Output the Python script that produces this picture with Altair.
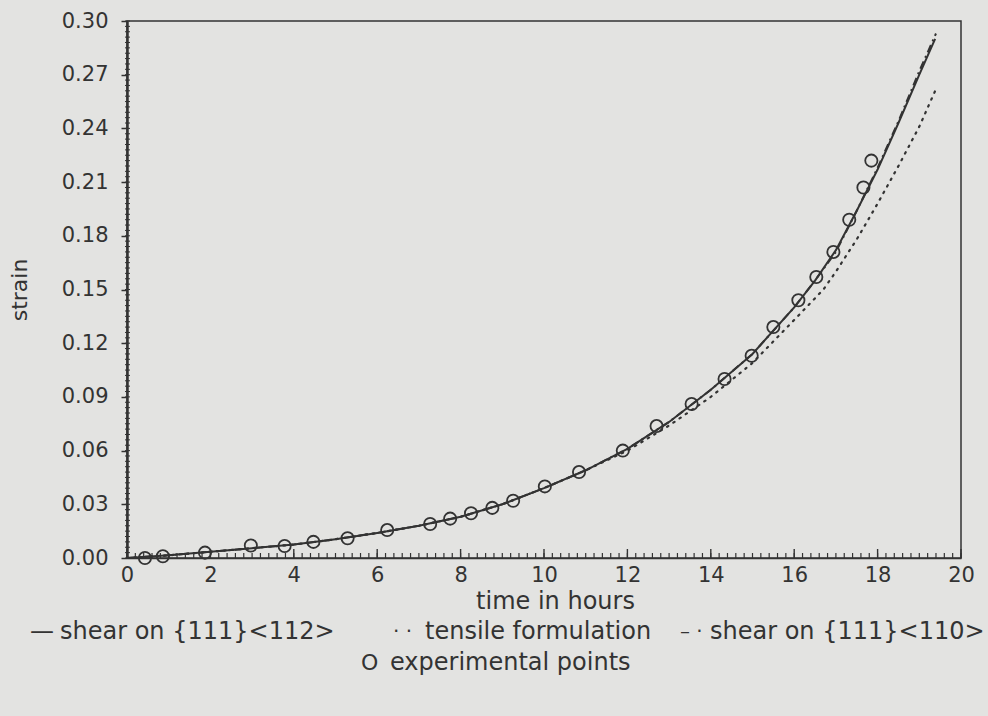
import altair as alt
import pandas as pd

# ---------------- data ----------------
exp_time = [0.43, 0.86, 1.87, 2.97, 3.78, 4.47, 5.29, 6.24, 7.27, 7.75, 8.25, 8.76,
            9.26, 10.02, 10.84, 11.89, 12.70, 13.54, 14.33, 14.98, 15.50, 16.10,
            16.53, 16.94, 17.32, 17.66, 17.85]
exp_strain = [0.000, 0.001, 0.003, 0.007, 0.0067, 0.009, 0.011, 0.0156, 0.019, 0.022,
              0.025, 0.028, 0.032, 0.040, 0.048, 0.060, 0.0737, 0.086, 0.100, 0.113,
              0.129, 0.144, 0.157, 0.171, 0.189, 0.207, 0.222]

shear112_time = [0, 1, 2, 3, 4, 5, 6, 7, 8, 9, 10, 11, 12, 13, 14, 15, 16, 16.5,
                 17, 17.5, 18, 18.5, 19, 19.38]
shear112_strain = [0, 0.0015, 0.0035, 0.0055, 0.0075, 0.0105, 0.014, 0.018, 0.023,
                   0.030, 0.039, 0.049, 0.061, 0.076, 0.094, 0.114, 0.140, 0.155,
                   0.172, 0.194, 0.217, 0.243, 0.270, 0.290]

tensile_time = [0, 1, 2, 3, 4, 5, 6, 7, 8, 9, 10, 11, 12, 13, 14, 15, 16, 16.7,
                17, 17.5, 18, 18.5, 19, 19.4]
tensile_strain = [0, 0.0015, 0.0035, 0.0055, 0.0075, 0.0105, 0.014, 0.018, 0.023,
                  0.030, 0.039, 0.049, 0.060, 0.074, 0.090, 0.109, 0.133, 0.150,
                  0.160, 0.178, 0.198, 0.219, 0.241, 0.262]

shear110_time = [0, 1, 2, 3, 4, 5, 6, 7, 8, 9, 10, 11, 12, 13, 14, 15, 16, 16.5,
                 17, 17.5, 18, 18.5, 19, 19.4]
shear110_strain = [0, 0.0015, 0.0035, 0.0055, 0.0075, 0.0105, 0.014, 0.018, 0.023,
                   0.030, 0.039, 0.049, 0.061, 0.076, 0.094, 0.114, 0.140, 0.155,
                   0.171, 0.194, 0.218, 0.244, 0.272, 0.293]

x_major = [0, 2, 4, 6, 8, 10, 12, 14, 16, 18, 20]
x_minor = [round(i * 0.2, 1) for i in range(101)]
y_major = [0.00, 0.03, 0.06, 0.09, 0.12, 0.15, 0.18, 0.21, 0.24, 0.27, 0.30]
y_minor = [round(i * 0.003, 3) for i in range(101)]

legend_symbols = ["\u2014", "\u00b7 \u00b7", "\u2013 \u00b7", "O"]
legend_texts = ["shear on {111}<112>", "tensile formulation",
                "shear on {111}<110>", "experimental points"]

# ---------------- styling ----------------
INK = "#333333"
BG = "#e3e3e1"
FONT = "DejaVu Sans"
FS_TICK = 21
FS_TEXT = 24
W, H = 834, 537

xs = alt.Scale(domain=[0, 20], nice=False, zero=False)
ys = alt.Scale(domain=[0, 0.30], nice=False, zero=False)

x_axis = alt.Axis(values=x_major, format="d", title="time in hours", ticks=False,
                  grid=False, domainColor=INK, domainWidth=1.5, labelFont=FONT,
                  labelFontSize=FS_TICK, labelColor=INK, labelPadding=6,
                  labelFlush=False,
                  titleFont=FONT, titleFontSize=FS_TEXT, titleColor=INK,
                  titleFontWeight="normal", titlePadding=4, titleX=428)
y_axis = alt.Axis(values=y_major, format=".2f", title="strain", ticks=True,
                  tickSize=6, tickWidth=1.5, tickColor=INK, grid=False,
                  domainColor=INK, domainWidth=2.5, labelFont=FONT,
                  labelFontSize=FS_TICK, labelColor=INK, labelPadding=13,
                  labelFlush=False,
                  titleFont=FONT, titleFontSize=22, titleColor=INK,
                  titleFontWeight="normal", titlePadding=30)

X = alt.X("t:Q", scale=xs, axis=x_axis)
Y = alt.Y("s:Q", scale=ys, axis=y_axis)

df112 = pd.DataFrame({"t": shear112_time, "s": shear112_strain})
dft = pd.DataFrame({"t": tensile_time, "s": tensile_strain})
df110 = pd.DataFrame({"t": shear110_time, "s": shear110_strain})
dfe = pd.DataFrame({"t": exp_time, "s": exp_strain})

solid = alt.Chart(df112).mark_line(color=INK, strokeWidth=2).encode(x=X, y=Y)
tensile = alt.Chart(dft).mark_line(color=INK, strokeWidth=2.2, strokeDash=[1.5, 6],
                                   strokeCap="round").encode(x=X, y=Y)
dashdot = alt.Chart(df110).mark_line(color=INK, strokeWidth=2,
                                     strokeDash=[8, 4, 2, 4]).encode(x=X, y=Y)
points = alt.Chart(dfe).mark_point(shape="circle", filled=False, size=150,
                                   strokeWidth=1.8, color=INK, opacity=1).encode(x=X, y=Y)

xminor = alt.Chart(pd.DataFrame({"t": x_minor})).mark_rule(color=INK, strokeWidth=1.2).encode(
    x=X, y=alt.value(H), y2=alt.value(H - 5))
xmajor = alt.Chart(pd.DataFrame({"t": x_major})).mark_rule(color=INK, strokeWidth=1.4).encode(
    x=X, y=alt.value(H), y2=alt.value(H - 9))
yminor = alt.Chart(pd.DataFrame({"s": y_minor})).mark_rule(color=INK, strokeWidth=1).encode(
    y=Y, x=alt.value(-2), x2=alt.value(3))

dummy = pd.DataFrame({"k": [0]})
def label(txt, x, y, size=FS_TEXT):
    return alt.Chart(dummy).mark_text(text=txt, align="left", baseline="middle",
                                      font=FONT, fontSize=size, color=INK).encode(
        x=alt.value(x), y=alt.value(y))

row1, row2 = 611, 642
legend = [
    label(legend_symbols[0], -97, row1),
    label(legend_texts[0], -67, row1),
    label(legend_symbols[1], 266, row1, 20),
    label(legend_texts[1], 298, row1),
    label(legend_symbols[2], 553, row1, 20),
    label(legend_texts[2], 583, row1),
    label(legend_symbols[3], 234, row2, 22),
    label(legend_texts[3], 263, row2),
]

chart = alt.layer(solid, tensile, dashdot, points, xminor, xmajor, yminor, *legend).properties(
    width=W, height=H,
    padding={"left": 127, "top": 21, "right": 27, "bottom": 158},
    autosize=alt.AutoSizeParams(type="none"),
    background=BG,
).configure_view(stroke=INK, strokeWidth=1.5)

chart.save("out.html", embed_options={"renderer": "svg", "actions": False})
